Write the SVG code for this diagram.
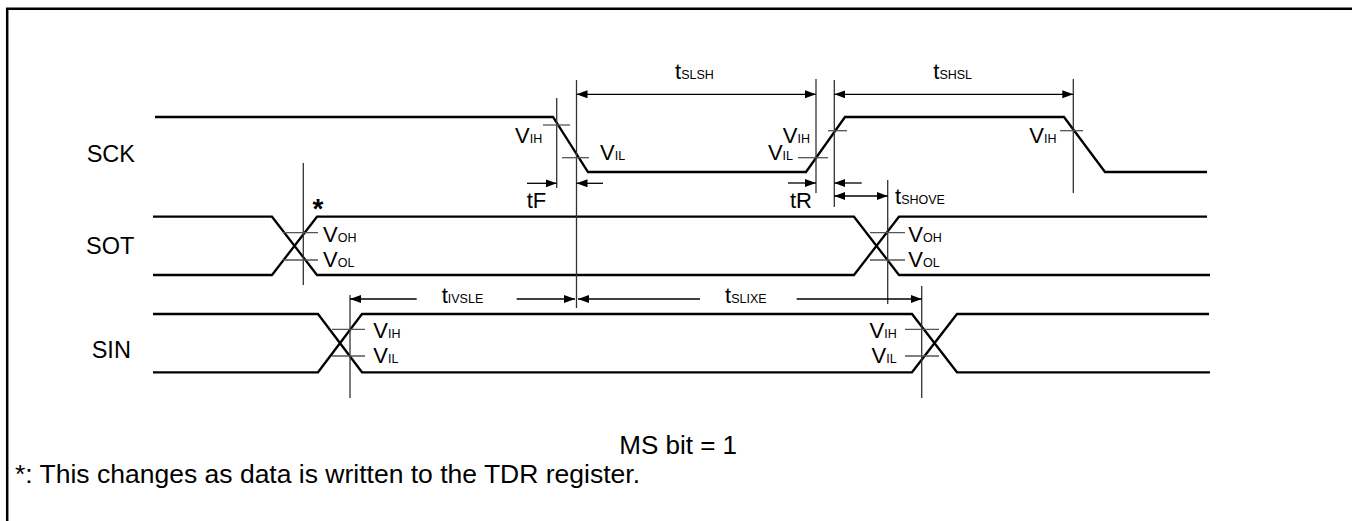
<svg xmlns="http://www.w3.org/2000/svg" width="1352" height="521" viewBox="0 0 1352 521">
<style>
text{font-family:"Liberation Sans",Arial,sans-serif;fill:#000}
.lbl{font-size:23.5px}
.v{font-size:22px}
.sub{font-size:12.5px}
.big{font-size:26px}
.sig{fill:none;stroke:#000;stroke-width:2.3;stroke-linejoin:miter}
.ref{stroke:#333;stroke-width:1.3;fill:none}
.tick{stroke:#555;stroke-width:1.3;fill:none}
.dim{stroke:#000;stroke-width:1.3;fill:none}
.a2{marker-start:url(#ah);marker-end:url(#ah)}
.ae{marker-end:url(#ah)}
.as{marker-start:url(#ah)}
</style>
<defs>
<marker id="ah" markerUnits="userSpaceOnUse" markerWidth="12" markerHeight="9" refX="11" refY="4" orient="auto-start-reverse">
<path d="M0,0 L11,4 L0,8 z" fill="#000"/>
</marker>
</defs>
<rect width="1352" height="521" fill="#fff"/>
<g id="frame">
<path d="M7.2,521 V8.7 H1352" fill="none" stroke="#000" stroke-width="2.5"/>
</g>

<g id="SCK">
<text class="lbl" x="86.7" y="161.7">SCK</text>
<path class="sig" d="M155,117 H553 L588,172 H806 L845,117 H1064 L1105,172 H1207"/>
</g>
<g id="SOT">
<text class="lbl" x="86" y="254">SOT</text>
<path class="sig" d="M153,216.7 H272 L317,275 H854 L899,216.7 H1207"/>
<path class="sig" d="M153,275 H272 L317,216.7 H854 L899,275 H1210"/>
</g>
<g id="SIN">
<text class="lbl" x="91.7" y="358">SIN</text>
<path class="sig" d="M153,314 H318 L362,372.3 H912 L957,314 H1209"/>
<path class="sig" d="M153,372.3 H318 L362,314 H912 L957,372.3 H1210"/>
</g>

<g id="reference-lines">
<line class="ref" x1="303.3" y1="163" x2="303.3" y2="285"/>
<line class="ref" x1="350" y1="295" x2="350" y2="398"/>
<line class="ref" x1="556.7" y1="98" x2="556.7" y2="188"/>
<line class="ref" x1="576.5" y1="80" x2="576.5" y2="308"/>
<line class="ref" x1="816" y1="79" x2="816" y2="193"/>
<line class="ref" x1="834.3" y1="80" x2="834.3" y2="207"/>
<line class="ref" x1="887.7" y1="180" x2="887.7" y2="304"/>
<line class="ref" x1="921.7" y1="286" x2="921.7" y2="398"/>
<line class="ref" x1="1073.3" y1="79" x2="1073.3" y2="193"/>
</g>

<g id="threshold-ticks">
<line class="tick" x1="543" y1="125" x2="570" y2="125"/>
<line class="tick" x1="562" y1="157.7" x2="589" y2="157.7"/>
<line class="tick" x1="828" y1="130.7" x2="847" y2="130.7"/>
<line class="tick" x1="798" y1="157.7" x2="828" y2="157.7"/>
<line class="tick" x1="1060" y1="130.7" x2="1083" y2="130.7"/>
<line class="tick" x1="283" y1="232.7" x2="318" y2="232.7"/>
<line class="tick" x1="283" y1="260" x2="318" y2="260"/>
<line class="tick" x1="870" y1="232.7" x2="905" y2="232.7"/>
<line class="tick" x1="870" y1="260" x2="905" y2="260"/>
<line class="tick" x1="332" y1="329.3" x2="365" y2="329.3"/>
<line class="tick" x1="332" y1="356" x2="365" y2="356"/>
<line class="tick" x1="905" y1="329.3" x2="939" y2="329.3"/>
<line class="tick" x1="905" y1="356" x2="939" y2="356"/>
</g>

<g id="connectors">
<line class="dim a2" x1="576.5" y1="94.3" x2="816" y2="94.3"/>
<line class="dim a2" x1="834.3" y1="94.3" x2="1073.3" y2="94.3"/>
<line class="dim ae" x1="527" y1="183.3" x2="556.7" y2="183.3"/>
<line class="dim ae" x1="603" y1="183.3" x2="576.5" y2="183.3"/>
<line class="dim ae" x1="788" y1="183" x2="816" y2="183"/>
<line class="dim ae" x1="861.7" y1="183" x2="834.3" y2="183"/>
<line class="dim a2" x1="834.3" y1="196" x2="887.7" y2="196"/>
<line class="dim as" x1="350" y1="299" x2="416.7" y2="299"/>
<line class="dim ae" x1="516.7" y1="299" x2="575" y2="299"/>
<line class="dim as" x1="578" y1="299" x2="700" y2="299"/>
<line class="dim ae" x1="796.7" y1="299" x2="921.7" y2="299"/>
</g>

<g id="timing-labels">
<text class="v" x="675" y="79">t<tspan class="sub">SLSH</tspan></text>
<text class="v" x="933.3" y="79">t<tspan class="sub">SHSL</tspan></text>
<text class="v" x="526.7" y="208">tF</text>
<text class="v" x="790" y="208">tR</text>
<text class="v" x="895" y="204">t<tspan class="sub">SHOVE</tspan></text>
<text class="v" x="441.7" y="302.7">t<tspan class="sub">IVSLE</tspan></text>
<text class="v" x="725" y="302.7">t<tspan class="sub">SLIXE</tspan></text>
</g>

<g id="level-labels">
<text class="v" x="515" y="143">V<tspan class="sub">IH</tspan></text>
<text class="v" x="600" y="160">V<tspan class="sub">IL</tspan></text>
<text class="v" x="810" y="143" text-anchor="end">V<tspan class="sub">IH</tspan></text>
<text class="v" x="793" y="160" text-anchor="end">V<tspan class="sub">IL</tspan></text>
<text class="v" x="1056.5" y="143" text-anchor="end">V<tspan class="sub">IH</tspan></text>
<text class="v" x="323" y="241.7">V<tspan class="sub">OH</tspan></text>
<text class="v" x="323" y="267">V<tspan class="sub">OL</tspan></text>
<text class="v" x="908.3" y="241.7">V<tspan class="sub">OH</tspan></text>
<text class="v" x="908.3" y="267">V<tspan class="sub">OL</tspan></text>
<text class="v" x="373.3" y="338">V<tspan class="sub">IH</tspan></text>
<text class="v" x="373.3" y="363">V<tspan class="sub">IL</tspan></text>
<text class="v" x="896.7" y="338" text-anchor="end">V<tspan class="sub">IH</tspan></text>
<text class="v" x="896.7" y="363" text-anchor="end">V<tspan class="sub">IL</tspan></text>
<text style="font-size:28px;font-weight:bold" x="312.5" y="218">*</text>
</g>

<g id="notes">
<text class="big" x="619.3" y="454">MS bit = 1</text>
<text class="big" x="15" y="483" style="font-size:26.5px">*: This changes as data is written to the TDR register.</text>
</g>
</svg>
